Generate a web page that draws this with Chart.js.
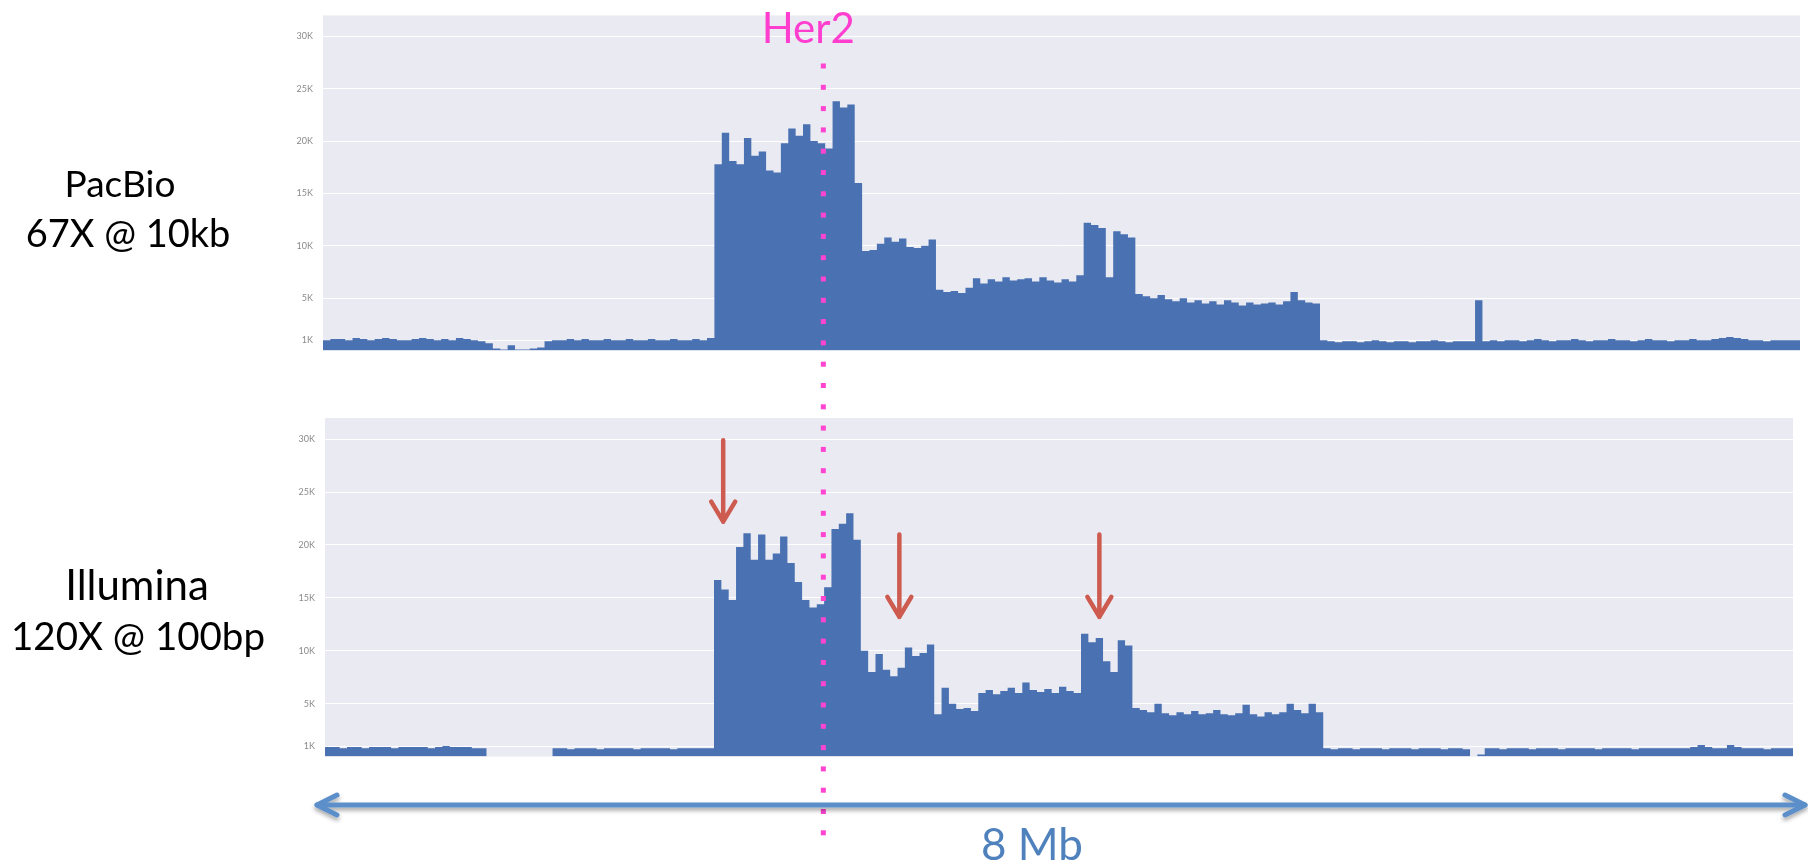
<!DOCTYPE html>
<html>
<head>
<meta charset="utf-8">
<title>Her2 coverage</title>
<script src="https://cdn.jsdelivr.net/npm/chart.js@4.4.0/dist/chart.umd.min.js"></script>
<style>
  html, body { margin: 0; padding: 0; background: #fff; }
  body { width: 1808px; height: 866px; position: relative; overflow: hidden; font-family: Lato, sans-serif; }
  .wrap { position: absolute; left: 0; width: 1808px; }
  #top-wrap { top: 0; height: 366px; }
  #bottom-wrap { top: 400px; height: 372px; }
  #overlay { position: absolute; left: 0; top: 0; pointer-events: none; }
</style>
</head>
<body>
<div class="wrap" id="top-wrap"><canvas id="pacbio-chart"></canvas></div>
<div class="wrap" id="bottom-wrap"><canvas id="illumina-chart"></canvas></div>
<svg id="overlay" width="1808" height="866" xmlns="http://www.w3.org/2000/svg"></svg>

<script>
// coverage in bins of 0.04 Mb over the 8 Mb window (values in K reads)
const binSize = 0.04;
const windowMb = 8;

const pacbioCoverage = [
    // 0 - 0.92 Mb
    1.0,1.1,1.1,1.0,1.2,1.1,1.0,1.1,1.2,1.1,1.0,1.0,1.1,1.2,1.1,1.0,1.1,1.0,1.2,1.1,1.0,0.9,0.7,
    // gap
    0.2,0.1,0.5,0.1,0.1,0.2,0.3,
    0.9,1.0,1.0,1.1,1.0,1.1,1.0,1.0,1.1,1.0,1.0,1.1,1.0,1.0,1.1,1.0,1.0,1.1,1.0,1.0,1.1,1.0,1.2,
    // amplified block around Her2
    17.8,20.8,18.1,17.8,20.3,18.6,19.0,17.2,17.0,19.8,21.2,20.5,21.6,20.0,19.8,19.3,23.8,23.2,23.5,16.0,
    9.5,9.6,10.2,10.8,10.4,10.7,9.9,9.8,10.0,10.6,
    5.8,5.6,5.7,5.5,6.0,6.9,6.4,6.8,6.6,7.0,6.7,6.8,6.9,6.6,7.0,6.7,6.5,6.8,6.6,7.2,
    12.2,12.0,11.7,7.0,11.4,11.1,10.8,
    5.4,5.2,5.0,5.3,4.9,4.7,5.0,4.6,4.8,4.5,4.7,4.4,4.8,4.6,4.3,4.6,4.4,4.5,4.6,4.4,4.7,5.6,4.8,4.6,4.5,
    // back to baseline
    1.0,0.9,0.8,0.9,0.9,0.8,0.9,1.0,0.9,0.8,0.9,0.9,0.8,0.9,0.9,1.0,0.9,0.8,0.9,0.9,
    0.9,4.8,0.9,
    1.0,0.9,1.0,1.0,0.9,1.0,1.1,1.0,0.9,1.0,1.0,1.1,1.0,0.9,1.0,1.0,1.1,1.0,1.0,0.9,1.0,
    1.1,1.0,1.0,0.9,1.0,1.0,1.1,1.0,1.0,1.1,1.2,1.3,1.2,1.1,1.0,1.0,0.9,1.0,1.0,1.0,1.0
];

const illuminaCoverage = [
    0.9,0.9,0.8,0.9,0.9,0.8,0.9,0.9,0.9,0.8,0.9,0.9,0.9,0.9,0.8,0.9,1.0,0.9,0.9,0.9,0.8,0.8,
    // gap
    0,0,0,0,0,0,0,0,0,
    0.8,0.8,0.7,0.8,0.8,0.8,0.7,0.8,0.8,0.8,0.8,0.7,0.8,0.8,0.8,0.8,0.7,0.8,0.8,0.8,0.8,0.8,
    // amplified block around Her2
    16.7,15.8,14.8,19.8,21.1,18.6,21.0,18.6,19.2,20.8,18.3,16.5,14.8,14.1,14.4,16.0,21.5,22.0,23.0,20.5,
    10.0,8.0,9.7,8.2,7.6,8.4,10.3,9.5,9.8,10.6,
    4.0,6.5,5.0,4.5,4.6,4.3,6.0,6.3,5.9,6.2,6.5,6.0,7.0,6.3,6.1,6.4,6.0,6.6,6.2,6.0,
    11.6,10.8,11.2,9.0,8.0,11.0,10.5,
    4.6,4.4,4.2,5.0,4.1,3.9,4.2,4.0,4.3,4.0,4.1,4.4,4.0,3.9,4.1,4.9,4.0,3.8,4.2,4.0,4.2,5.0,4.4,4.1,5.0,4.2,
    // back to baseline
    0.8,0.7,0.8,0.8,0.7,0.8,0.8,0.8,0.7,0.8,0.8,0.8,0.7,0.8,0.8,0.8,0.7,0.8,0.8,0.7,
    0,0.2,
    0.8,0.8,0.7,0.8,0.8,0.8,0.7,0.8,0.8,0.8,0.7,0.8,0.8,0.8,0.8,0.7,0.8,0.8,0.8,0.8,0.7,
    0.8,0.8,0.8,0.8,0.8,0.8,0.8,0.9,1.1,0.9,0.8,0.8,1.1,0.9,0.8,0.8,0.8,0.7,0.8,0.8,0.8
];

const yTickValues = [1, 5, 10, 15, 20, 25, 30];
const pacbioTickLabels = ['1K', '5K', '10K', '15K', '20K', '25K', '30K'];
const illuminaTickLabels = ['1K', '5K', '10K', '15K', '20K', '25K', '30K'];

const her2Position = 2.71; // Mb
// red arrows on the Illumina track: position (Mb), tail and tip (K)
const arrowPositions = [2.17, 3.13, 4.22];
const arrowTails = [29.9, 21.0, 21.0];
const arrowTips = [22.2, 13.2, 13.2];

const barColor = '#4A71B1';
const panelColor = '#EAEAF2';

// grey panel behind the plot area
const panelBackground = {
    id: 'panelBackground',
    beforeDraw(chart) {
        const { ctx, chartArea: a } = chart;
        ctx.save();
        ctx.fillStyle = panelColor;
        ctx.fillRect(a.left, a.top, a.right - a.left, a.bottom - a.top);
        ctx.restore();
    }
};

const redArrows = {
    id: 'redArrows',
    afterDatasetsDraw(chart) {
        const { ctx, scales } = chart;
        ctx.save();
        ctx.strokeStyle = '#CD5B50';
        ctx.lineWidth = 4.5;
        ctx.lineCap = 'round';
        ctx.lineJoin = 'round';
        arrowPositions.forEach((pos, i) => {
            const x = scales.x.getPixelForValue(pos);
            const y0 = scales.y.getPixelForValue(arrowTails[i]);
            const y1 = scales.y.getPixelForValue(arrowTips[i]);
            ctx.beginPath();
            ctx.moveTo(x, y0);
            ctx.lineTo(x, y1);
            ctx.moveTo(x - 12, y1 - 20);
            ctx.lineTo(x, y1);
            ctx.lineTo(x + 12, y1 - 20);
            ctx.stroke();
        });
        ctx.restore();
    }
};

function toPoints(values) {
    const points = values.map((v, i) => ({ x: i * binSize, y: v }));
    points.push({ x: windowMb, y: values[values.length - 1] });
    return points;
}

function makeChart(canvasId, values, tickLabels, axisWidth, padding, extraPlugins) {
    const ctx = document.getElementById(canvasId).getContext('2d');
    return new Chart(ctx, {
        type: 'line',
        data: {
            datasets: [{
                data: toPoints(values),
                stepped: true,
                fill: 'origin',
                backgroundColor: barColor,
                borderWidth: 0,
                pointRadius: 0,
            }]
        },
        options: {
            responsive: true,
            maintainAspectRatio: false,
            animation: false,
            layout: { padding: padding },
            plugins: { legend: { display: false }, tooltip: { enabled: false } },
            scales: {
                x: { type: 'linear', min: 0, max: windowMb, display: false },
                y: {
                    min: 0,
                    max: 32,
                    afterBuildTicks: (scale) => {
                        scale.ticks = yTickValues.map(v => ({ value: v }));
                    },
                    afterFit: (scale) => { scale.width = axisWidth; },
                    ticks: {
                        padding: 10,
                        font: { family: 'Lato', size: 9 },
                        color: '#8a8a8a',
                        callback: (value, index) => tickLabels[index],
                    },
                    grid: { color: '#ffffff', lineWidth: 1, drawTicks: false, tickLength: 0 },
                    border: { display: false },
                }
            }
        },
        plugins: [panelBackground].concat(extraPlugins)
    });
}

const pacbioChart = makeChart('pacbio-chart', pacbioCoverage, pacbioTickLabels, 323,
    { top: 15, right: 8, bottom: 0, left: 0 }, []);
const illuminaChart = makeChart('illumina-chart', illuminaCoverage, illuminaTickLabels, 325,
    { top: 18, right: 15, bottom: 0, left: 0 }, [redArrows]);

// annotations on top of both charts
const svg = document.getElementById('overlay');
const NS = 'http://www.w3.org/2000/svg';

function add(tag, attrs, text) {
    const el = document.createElementNS(NS, tag);
    for (const k in attrs) el.setAttribute(k, attrs[k]);
    if (text) el.textContent = text;
    svg.appendChild(el);
    return el;
}

// shadow for the span arrow
const defs = add('defs', {});
defs.innerHTML = '<filter id="shadow" x="-5%" y="-200%" width="110%" height="500%">' +
    '<feDropShadow dx="0" dy="3" stdDeviation="2" flood-color="#000" flood-opacity="0.35"/></filter>';

// Her2 dotted line
const her2X = pacbioChart.scales.x.getPixelForValue(her2Position);
for (let y = 66; y <= 840; y += 21.3) {
    add('rect', { x: her2X - 2.5, y: y - 2.5, width: 5, height: 5, fill: '#FF44D2' });
}
add('text', { x: her2X - 15, y: 43, 'text-anchor': 'middle', 'font-family': 'Lato', 'font-size': 42, fill: '#FF3ECF' }, 'Her2');

// 8 Mb span arrow
const spanLeft = illuminaChart.scales.x.getPixelForValue(0) - 8;
const spanRight = pacbioChart.scales.x.getPixelForValue(windowMb) + 5;
const spanY = 805;
const span = add('g', { stroke: '#5B8FC9', 'stroke-width': 5, 'stroke-linecap': 'round', 'stroke-linejoin': 'round', fill: 'none', filter: 'url(#shadow)' });
[
    `M${spanLeft} ${spanY} L${spanRight} ${spanY}`,
    `M${spanLeft + 20} ${spanY - 10} L${spanLeft} ${spanY} L${spanLeft + 20} ${spanY + 10}`,
    `M${spanRight - 20} ${spanY - 10} L${spanRight} ${spanY} L${spanRight - 20} ${spanY + 10}`
].forEach(d => {
    const p = document.createElementNS(NS, 'path');
    p.setAttribute('d', d);
    span.appendChild(p);
});
add('text', { x: 1032, y: 860, 'text-anchor': 'middle', 'font-family': 'Lato', 'font-size': 44, fill: '#4F81BD' }, '8 Mb');

// track labels
add('text', { x: 120, y: 197, 'text-anchor': 'middle', 'font-family': 'Lato', 'font-size': 37, fill: '#000' }, 'PacBio');
add('text', { x: 128, y: 247, 'text-anchor': 'middle', 'font-family': 'Lato', 'font-size': 38, fill: '#000' }, '67X @ 10kb');
add('text', { x: 137, y: 600, 'text-anchor': 'middle', 'font-family': 'Lato', 'font-size': 42, fill: '#000' }, 'Illumina');
add('text', { x: 138, y: 650, 'text-anchor': 'middle', 'font-family': 'Lato', 'font-size': 38.5, fill: '#000' }, '120X @ 100bp');
</script>
</body>
</html>
